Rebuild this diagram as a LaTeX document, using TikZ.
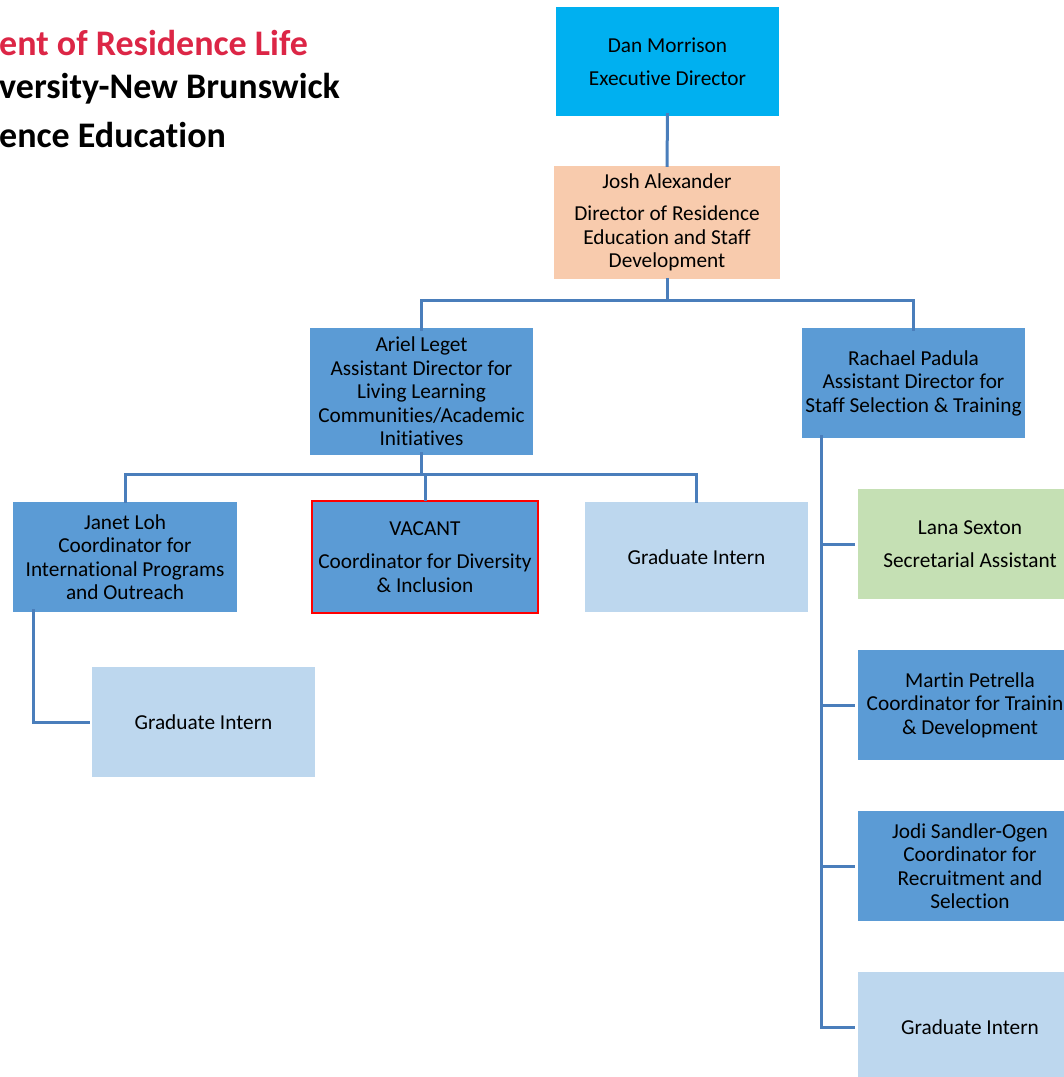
\documentclass[tikz,border=0pt]{standalone}
\usepackage{fontspec}
\setmainfont[Ligatures=NoCommon]{Carlito}
\definecolor{cyanbox}{RGB}{0,176,240}
\definecolor{peach}{RGB}{248,203,173}
\definecolor{midblue}{RGB}{91,155,213}
\definecolor{lightblue}{RGB}{189,215,238}
\definecolor{lightgreen}{RGB}{197,224,180}
\definecolor{linkblue}{RGB}{74,126,187}
\definecolor{titlered}{RGB}{220,38,70}
\begin{document}
\begin{tikzpicture}[x=1pt,y=-1pt,
  box/.style={draw=none, align=center, inner sep=0pt, minimum width=224pt, minimum height=110pt,
    font=\fontsize{21.3}{23.5}\selectfont},
  link/.style={draw=linkblue, line width=3pt},
  title/.style={anchor=west, inner sep=0pt, font=\fontsize{36}{40}\selectfont\bfseries}
]
\useasboundingbox (0,0) rectangle (1064,1077);
\clip (0,0) rectangle (1064,1077);

% title
\node[title, text=titlered] (t1) at (-1,43) {ent of Residence Life};
\node[title] (t2) at (-1,89) {versity-New Brunswick};
\node[title] (t3) at (-1,135) {ence Education};

% boxes
\node[box, fill=cyanbox, minimum width=223pt, minimum height=109pt] (dan) at (667.5,61.5)
  {Dan Morrison\\[9pt]Executive Director};
\node[box, fill=peach, minimum width=226pt, minimum height=113pt] (josh) at (667,222.5)
  {Josh Alexander\\[9pt]Director of Residence\\Education and Staff\\Development};
\node[box, fill=midblue, minimum width=223pt, minimum height=127pt] (ariel) at (421.5,391.5)
  {Ariel Leget\\Assistant Director for\\Living Learning\\Communities/Academic\\Initiatives};
\node[box, fill=midblue, minimum width=223pt] (rachael) at (913.5,383)
  {Rachael Padula\\Assistant Director for\\Staff Selection \& Training};
\node[box, fill=midblue] (janet) at (125,557)
  {Janet Loh\\Coordinator for\\International Programs\\and Outreach};
\node[box, fill=midblue, draw=red, line width=2.5pt, minimum width=226pt, minimum height=112pt] (vacant) at (425,557)
  {VACANT\\[10pt]Coordinator for Diversity\\\& Inclusion};
\node[box, fill=lightblue, minimum width=223pt] (gia) at (696.5,557) {Graduate Intern};
\node[box, fill=lightblue, minimum width=223pt] (gib) at (203.5,722) {Graduate Intern};
\node[box, fill=lightgreen] (lana) at (970,544)
  {Lana Sexton\\[9pt]Secretarial Assistant};
\node[box, fill=midblue] (martin) at (970,705)
  {Martin Petrella\\Coordinator for Trainin\phantom{g}\\\& Development};
\node[box, fill=midblue] (jodi) at (970,866)
  {Jodi Sandler-Ogen\\Coordinator for\\Recruitment and\\Selection};
\node[box, fill=lightblue] (gic) at (970,1027) {Graduate Intern};

% connectors
\draw[link] ([yshift=3pt]dan.south) -- ([yshift=-1pt]josh.north);
\draw[link] ([yshift=1pt]josh.south) -- ++(0,22) -| ([yshift=-3pt]ariel.north);
\draw[link] ([yshift=1pt]josh.south) ++(0,22) -| ([yshift=-3pt]rachael.north);
\draw[link] ([yshift=3pt]ariel.south) -- ++(0,22) -| ([yshift=-1pt]janet.north);
\draw[link] ([yshift=3pt]ariel.south) ++(0,22) -| ([yshift=-1pt]vacant.north);
\draw[link] ([yshift=3pt]ariel.south) ++(0,22) -| ([yshift=-1pt]gia.north);
\draw[link] ([xshift=21pt,yshift=3pt]janet.south west) |- ([xshift=-2pt]gib.west);
\draw[link] ([xshift=20pt,yshift=3pt]rachael.south west) |- ([xshift=-3pt]lana.west);
\draw[link] ([xshift=20pt,yshift=3pt]rachael.south west) |- ([xshift=-3pt]martin.west);
\draw[link] ([xshift=20pt,yshift=3pt]rachael.south west) |- ([xshift=-3pt]jodi.west);
\draw[link] ([xshift=20pt,yshift=3pt]rachael.south west) |- ([xshift=-3pt]gic.west);
\end{tikzpicture}
\end{document}
